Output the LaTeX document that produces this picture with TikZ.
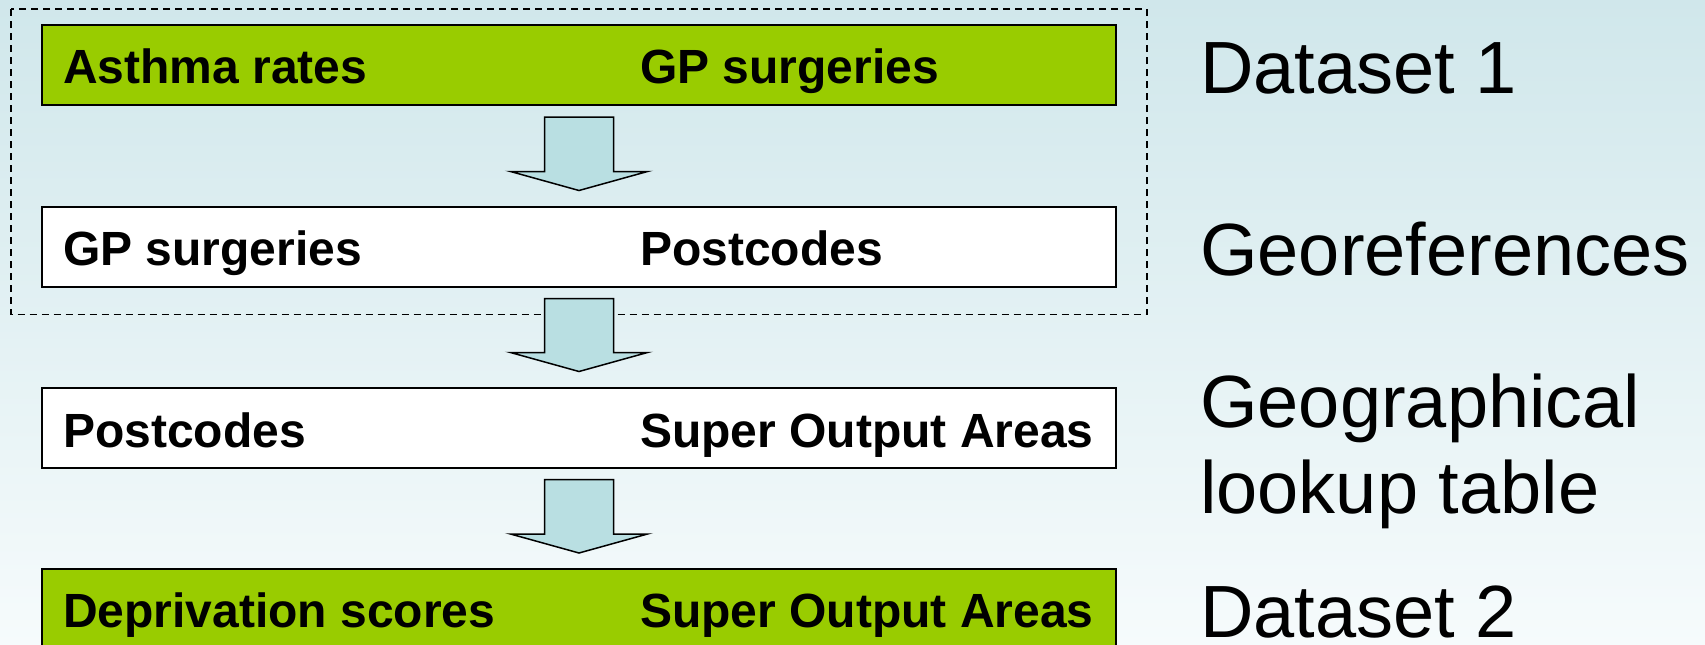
\documentclass[tikz,border=0pt]{standalone}
\usepackage{fontspec}
\setmainfont{Liberation Sans}
\usetikzlibrary{calc}
\definecolor{bgtop}{RGB}{208,231,235}
\definecolor{bgbot}{RGB}{246,251,252}
\definecolor{dsgreen}{RGB}{153,204,0}
\definecolor{arrfill}{RGB}{185,223,226}
\tikzset{
  rowbox/.style={draw=black, line width=2pt, minimum width=1074pt, minimum height=80pt, inner sep=0pt, rectangle},
  boldtxt/.style={anchor=base west, inner sep=0pt, font=\fontsize{48}{56}\selectfont\bfseries},
  sidelabel/.style={anchor=base west, inner sep=0pt, align=left, font=\fontsize{74}{86}\selectfont},
  blockarrow/.style={draw=black, line width=1.5pt, fill=arrfill, line join=miter},
  groupbox/.style={draw=black, line width=1.5pt, dash pattern=on 7pt off 5pt},
}
\newcommand\blockarr[2]{%
  \filldraw[blockarrow] let \p1=(#1.south), \p2=(#2.north) in
    (\x1-34.5pt,\y1-11pt) -- (\x1+34.5pt,\y1-11pt) -- (\x1+34.5pt,\y2+34pt)
    -- (\x1+68.5pt,\y2+34pt) -- (\x1,\y2+15pt) -- (\x1-68.5pt,\y2+34pt)
    -- (\x1-34.5pt,\y2+34pt) -- cycle;}
\begin{document}
\begin{tikzpicture}[x=1pt,y=-1pt]
  \shade[top color=bgtop, bottom color=bgbot] (0pt,0pt) rectangle (1705pt,-645pt);
  \useasboundingbox (0pt,0pt) rectangle (1705pt,-645pt);

  % rows
  \node[rowbox, fill=dsgreen] (b1) at (579,65) {};
  \node[rowbox, fill=white]   (b2) at (579,246.5) {};
  \node[rowbox, fill=white]   (b3) at (579,427.5) {};
  \node[rowbox, fill=dsgreen] (b4) at (579,609) {};

  % dashed group around the first two rows
  \draw[groupbox] ($(b1.north west)+(-30,-15)$) rectangle ($(b2.south east)+(30,27)$);

  % texts in rows
  \node[boldtxt] (t1l) at (63,83)  {Asthma rates};
  \node[boldtxt] (t1r) at (640,83) {GP surgeries};
  \node[boldtxt] (t2l) at (63,265)  {GP surgeries};
  \node[boldtxt] (t2r) at (640,265) {Postcodes};
  \node[boldtxt] (t3l) at (63,447)  {Postcodes};
  \node[boldtxt] (t3r) at (640,447) {Super Output Areas};
  \node[boldtxt] (t4l) at (63,627)  {Deprivation scores};
  \node[boldtxt] (t4r) at (640,627) {Super Output Areas};

  % block arrows
  \blockarr{b1}{b2}
  \blockarr{b2}{b3}
  \blockarr{b3}{b4}

  % side labels
  \node[sidelabel] (l1) at (1200,93)  {Dataset 1};
  \node[sidelabel] (l2) at (1200,275) {Georeferences};
  \node[sidelabel] (l3) at (1200,513) {Geographical\\lookup table};
  \node[sidelabel] (l4) at (1200,637) {Dataset 2};
\end{tikzpicture}
\end{document}
